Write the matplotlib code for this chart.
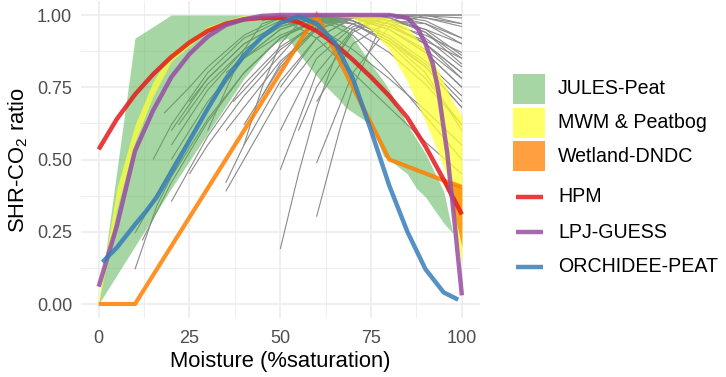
import matplotlib
matplotlib.use("Agg")
import matplotlib.pyplot as plt
from matplotlib.patches import Rectangle

plt.rcParams['font.family'] = ['Liberation Sans', 'DejaVu Sans']
plt.rcParams['mathtext.default'] = 'regular'

# ---------------- data ----------------
# JULES-Peat envelope
jules_x = [0, 10, 20, 30, 40, 48, 52, 58, 62, 66, 68, 75, 78.5, 80, 85, 87.5, 90, 95, 97.5]
jules_lo = [0.0, 0.20, 0.40, 0.59, 0.78, 0.90, 0.92, 0.82, 0.76, 0.71, 0.68, 0.62, 0.51, 0.50, 0.45, 0.40, 0.37, 0.28, 0.245]
jules_hi = [0.0, 0.92, 1.00, 1.00, 1.00, 1.00, 1.00, 1.00, 1.00, 0.99, 0.96, 0.83, 0.77, 0.74, 0.62, 0.57, 0.52, 0.39, 0.245]

# MWM & Peatbog envelope
mwm_x = [0, 5, 10, 15, 20, 30, 40, 50, 60, 70, 75, 80, 85, 90, 93, 96, 97.5, 100]
mwm_lo = [0.0, 0.33, 0.56, 0.72, 0.84, 0.945, 0.99, 1.0, 1.0, 0.99, 0.95, 0.88, 0.77, 0.63, 0.54, 0.44, 0.30, 0.14]
mwm_hi = [0.02, 0.40, 0.62, 0.77, 0.87, 0.96, 1.0, 1.0, 1.0, 1.0, 1.0, 0.99, 0.96, 0.88, 0.82, 0.74, 0.70, 0.65]

# Wetland-DNDC envelope (only visibly wide at the wet end) and its central line
dndc_x = [94.5, 97, 100]
dndc_lo = [0.43, 0.36, 0.20]
dndc_hi = [0.43, 0.42, 0.405]
dndc_line_x = [0, 10, 60, 80, 94.5, 100]
dndc_line_y = [0.0, 0.0, 1.0, 0.50, 0.43, 0.405]

# HPM
hpm_x = [0, 5, 10, 15, 20, 25, 30, 35, 40, 45, 50, 55, 60, 65, 70, 75, 80, 85, 90, 95, 100]
hpm_y = [0.535, 0.64, 0.725, 0.795, 0.855, 0.905, 0.945, 0.97, 0.985, 0.99, 0.99, 0.975,
         0.945, 0.90, 0.845, 0.785, 0.72, 0.645, 0.545, 0.43, 0.31]

# LPJ-GUESS
lpj_x = [0, 5, 10, 15, 20, 25, 30, 35, 40, 45, 50, 60, 70, 80, 85, 88, 90, 92, 93.5, 96, 98, 100]
lpj_y = [0.06, 0.27, 0.53, 0.67, 0.785, 0.865, 0.925, 0.965, 0.985, 0.997, 1.0, 1.0, 1.0, 1.0,
         0.99, 0.95, 0.90, 0.83, 0.74, 0.52, 0.28, 0.03]

# ORCHIDEE-PEAT
orc_x = [1, 5, 10, 13, 16, 20, 25, 30, 35, 40, 45, 50, 55, 60, 65, 70, 75, 80, 85, 90, 95, 99]
orc_y = [0.145, 0.195, 0.275, 0.32, 0.37, 0.455, 0.565, 0.675, 0.78, 0.86, 0.925, 0.972, 0.995,
         0.97, 0.905, 0.78, 0.60, 0.41, 0.25, 0.12, 0.04, 0.015]

# literature moisture response curves (grey)
gray_curves = [
    ([10, 16, 20, 30, 40, 50, 60, 70, 80, 90, 100], [0.12, 0.34, 0.44, 0.64, 0.80, 0.92, 0.98, 0.97, 0.90, 0.78, 0.62]),
    ([10, 20, 30, 40, 50, 60, 70, 80, 90, 100], [0.245, 0.47, 0.68, 0.85, 0.95, 0.995, 0.98, 0.93, 0.84, 0.72]),
    ([12, 20, 30, 40, 50, 60, 70, 80, 90, 100], [0.22, 0.42, 0.63, 0.80, 0.92, 0.98, 0.99, 0.95, 0.88, 0.78]),
    ([20, 30, 40, 50, 60, 70, 80, 90, 100], [0.354, 0.58, 0.76, 0.89, 0.97, 1.0, 0.97, 0.90, 0.80]),
    ([20, 30, 40, 50, 60, 70, 80, 90, 100], [0.50, 0.70, 0.85, 0.95, 0.99, 0.99, 0.95, 0.87, 0.75]),
    ([20, 30, 40, 50, 60, 70, 80, 90, 100], [0.55, 0.74, 0.88, 0.96, 1.0, 0.98, 0.92, 0.83, 0.70]),
    ([22, 30, 40, 50, 60, 70, 80, 90, 100], [0.62, 0.76, 0.88, 0.96, 0.99, 0.97, 0.91, 0.82, 0.68]),
    ([20, 30, 40, 50, 60, 70, 80, 90, 100], [0.60, 0.78, 0.90, 0.97, 1.0, 0.99, 0.96, 0.91, 0.85]),
    ([25, 30, 40, 50, 60, 70, 80, 90, 100], [0.70, 0.78, 0.90, 0.97, 1.0, 1.0, 0.98, 0.95, 0.90]),
    ([35, 40, 50, 60, 70, 80, 90, 100], [0.39, 0.50, 0.72, 0.88, 0.97, 1.0, 0.99, 0.96]),
    ([35, 40, 50, 60, 70, 80, 90, 100], [0.42, 0.55, 0.77, 0.92, 0.99, 0.99, 0.94, 0.85]),
    ([35, 40, 50, 60, 70, 80, 90, 100], [0.60, 0.68, 0.84, 0.95, 1.0, 0.98, 0.92, 0.82]),
    ([37, 40, 50, 60, 70, 80, 90, 100], [0.70, 0.74, 0.88, 0.97, 0.99, 0.95, 0.87, 0.75]),
    ([40, 50, 60, 70, 80, 90, 100], [0.80, 0.92, 0.99, 0.98, 0.92, 0.82, 0.68]),
    ([50, 55, 60, 65, 70, 80, 90, 100], [0.19, 0.45, 0.68, 0.85, 0.95, 1.0, 0.97, 0.90]),
    ([50, 60, 70, 80, 90, 100], [0.464, 0.80, 0.95, 1.0, 0.99, 0.97]),
    ([50, 60, 70, 80, 90, 100], [0.60, 0.85, 0.96, 0.99, 0.95, 0.86]),
    ([60, 66.5, 70, 78, 85, 100], [0.302, 0.61, 0.75, 0.97, 1.0, 0.99]),
    ([60, 70, 80, 90, 100], [0.488, 0.80, 0.96, 1.0, 1.0]),
    ([60, 70, 80, 90, 100], [0.70, 0.90, 0.98, 0.97, 0.92]),
    ([30, 40, 45, 50, 60, 70, 80, 90, 100], [0.60, 0.88, 0.97, 0.99, 0.92, 0.80, 0.68, 0.56, 0.45]),
    ([40, 45, 50, 55, 60, 70, 80, 90, 100], [0.55, 0.75, 0.90, 0.97, 0.99, 0.93, 0.80, 0.65, 0.50]),
    ([15, 20, 30, 40, 50, 60, 70, 80, 90, 100], [0.50, 0.62, 0.80, 0.92, 0.98, 1.0, 0.99, 0.96, 0.90, 0.80]),
    ([18, 25, 30, 40, 50, 60, 70, 80, 90, 100], [0.66, 0.75, 0.82, 0.93, 0.99, 0.99, 0.95, 0.87, 0.76, 0.62]),
    ([25, 30, 40, 50, 55, 60, 70, 80, 90, 100], [0.45, 0.55, 0.72, 0.86, 0.93, 0.97, 0.99, 0.97, 0.93, 0.87]),
    ([35, 40, 50, 60, 70, 80, 90, 100], [0.80, 0.85, 0.93, 0.98, 1.0, 1.0, 1.0, 1.0]),
    ([40, 50, 60, 70, 80, 90, 100], [0.62, 0.82, 0.95, 0.99, 0.97, 0.90, 0.78]),
    ([45, 50, 60, 70, 80, 90, 100], [0.72, 0.83, 0.96, 1.0, 0.99, 0.94, 0.83]),
    ([50, 60, 70, 80, 90, 100], [0.75, 0.92, 0.99, 1.0, 0.98, 0.92]),
    ([55, 60, 70, 80, 90, 100], [0.60, 0.75, 0.94, 1.0, 1.0, 0.97]),
    ([45, 50, 55, 60, 70, 80, 90, 100], [0.98, 1.0, 0.99, 0.96, 0.88, 0.78, 0.67, 0.55]),
    ([50, 55, 60, 70, 80, 90, 100], [0.97, 1.0, 1.0, 0.97, 0.91, 0.80, 0.60]),
]

fill_labels = ['JULES-Peat', 'MWM & Peatbog', 'Wetland-DNDC']
line_labels = ['HPM', 'LPJ-GUESS', 'ORCHIDEE-PEAT']

x_ticks = [0, 25, 50, 75, 100]
y_ticks = [0.00, 0.25, 0.50, 0.75, 1.00]
y_ticklabels = ['0.00', '0.25', '0.50', '0.75', '1.00']

# ---------------- style ----------------
C_GREEN = '#4DAF4A'
C_YELLOW = '#FFFF33'
C_ORANGE = '#FF7F00'
C_RED = '#E41A1C'
C_PURPLE = '#984EA3'
C_BLUE = '#377EB8'
FILL_ALPHA = {C_GREEN: 0.5, C_YELLOW: 0.75, C_ORANGE: 0.75}
LINE_ALPHA = 0.85
LW = 3.2

W, H = 726, 377
fig = plt.figure(figsize=(W / 100, H / 100), dpi=100)
ax = fig.add_axes([0.1109, 0.1553, 0.5503, 0.8432])

for xs, ys in gray_curves:
    ax.plot(xs, ys, color='#8a8a8a', lw=0.8, zorder=2, solid_capstyle='butt')

ax.fill_between(jules_x, jules_lo, jules_hi, color=C_GREEN, alpha=FILL_ALPHA[C_GREEN], lw=0, zorder=3)
ax.fill_between(mwm_x, mwm_lo, mwm_hi, color=C_YELLOW, alpha=FILL_ALPHA[C_YELLOW], lw=0, zorder=4)
ax.fill_between(dndc_x, dndc_lo, dndc_hi, color=C_ORANGE, alpha=FILL_ALPHA[C_ORANGE], lw=0, zorder=5)
ax.plot(dndc_line_x, dndc_line_y, color=C_ORANGE, lw=3.0, alpha=LINE_ALPHA, zorder=6,
        solid_joinstyle='miter', solid_capstyle='butt')

ax.plot(hpm_x, hpm_y, color=C_RED, lw=LW, alpha=LINE_ALPHA, zorder=7, solid_capstyle='butt')
ax.plot(lpj_x, lpj_y, color=C_PURPLE, lw=LW, alpha=LINE_ALPHA, zorder=8, solid_capstyle='butt')
ax.plot(orc_x, orc_y, color=C_BLUE, lw=LW, alpha=LINE_ALPHA, zorder=9, solid_capstyle='butt')

ax.set_xlim(-5, 105)
ax.set_ylim(-0.05, 1.05)
ax.set_xticks(x_ticks)
ax.set_xticks([12.5, 37.5, 62.5, 87.5], minor=True)
ax.set_yticks(y_ticks)
ax.set_yticklabels(y_ticklabels)
ax.set_yticks([0.125, 0.375, 0.625, 0.875], minor=True)
ax.grid(which='major', color='#EBEBEB', lw=1.1, zorder=0)
ax.grid(which='minor', color='#EBEBEB', lw=0.6, zorder=0)
ax.set_axisbelow(True)
for s in ax.spines.values():
    s.set_visible(False)
ax.tick_params(which='both', length=0)
ax.tick_params(axis='x', pad=8, labelsize=13, labelcolor='#4D4D4D')
ax.tick_params(axis='y', pad=6, labelsize=13, labelcolor='#4D4D4D')
ax.set_xlabel('Moisture (%saturation)', fontsize=15.8, labelpad=3)
ax.set_ylabel('SHR-CO$_2$ ratio', fontsize=15.8, labelpad=5)

# ---------------- legend (drawn in a pixel-space overlay) ----------------
lg = fig.add_axes([0, 0, 1, 1], facecolor='none')
lg.set_xlim(0, W)
lg.set_ylim(H, 0)
lg.axis('off')
key_x0, key_x1, text_x = 513, 545, 558
fill_rows = [89, 122.5, 156]
line_rows = [197, 232, 267]
for lab, col, yc in zip(fill_labels, [C_GREEN, C_YELLOW, C_ORANGE], fill_rows):
    lg.add_patch(Rectangle((key_x0, yc - 15), key_x1 - key_x0, 30, facecolor=col,
                           alpha=FILL_ALPHA[col], edgecolor='none'))
    lg.text(text_x, yc, lab, fontsize=14.1, va='center', ha='left')
for lab, col, yc in zip(line_labels, [C_RED, C_PURPLE, C_BLUE], line_rows):
    lg.plot([key_x0 + 3, key_x1 - 2], [yc, yc], color=col, lw=LW, alpha=LINE_ALPHA,
            solid_capstyle='butt')
    lg.text(text_x, yc, lab, fontsize=14.1, va='center', ha='left')

fig.savefig('out.png', dpi=100)
